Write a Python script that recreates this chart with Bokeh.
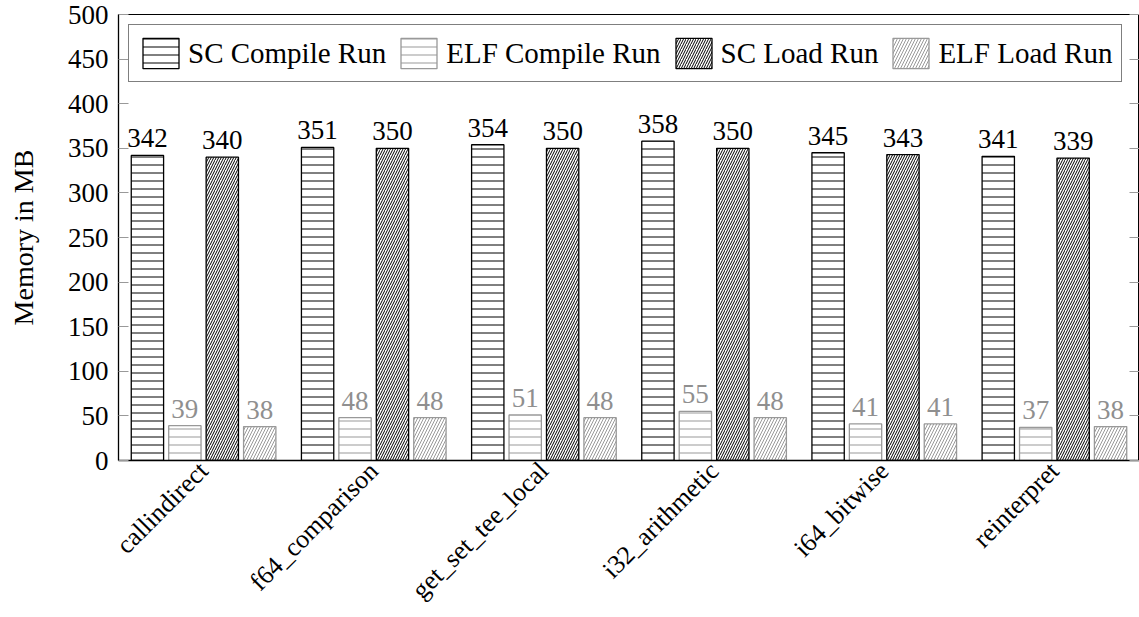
import math
from bokeh.plotting import figure
from bokeh.models import (ColumnDataSource, Range1d, FactorRange, LinearAxis,
                          FixedTicker, LabelSet, Legend, LegendItem)
from bokeh.transform import dodge
from bokeh.embed import file_html
from bokeh.resources import INLINE

# ---------------- data ----------------
benchmarks = ["callindirect", "f64_comparison", "get_set_tee_local",
              "i32_arithmetic", "i64_bitwise", "reinterpret"]
sc_compile = [342, 351, 354, 358, 345, 341]
elf_compile = [39, 48, 51, 55, 41, 37]
sc_load = [340, 350, 350, 350, 343, 339]
elf_load = [38, 48, 48, 48, 41, 38]
series_names = ["SC Compile Run", "ELF Compile Run", "SC Load Run", "ELF Load Run"]
y_ticks = list(range(0, 501, 50))

FONT = "Liberation Serif"
BLACK = "#000000"
GRAY = "#999999"
LABEL_GRAY = "#8f8f8f"

src = ColumnDataSource(dict(
    name=benchmarks,
    sc_compile=sc_compile, elf_compile=elf_compile,
    sc_load=sc_load, elf_load=elf_load,
    sc_compile_t=[str(v) for v in sc_compile],
    elf_compile_t=[str(v) for v in elf_compile],
    sc_load_t=[str(v) for v in sc_load],
    elf_load_t=[str(v) for v in elf_load],
))

p = figure(width=1139, height=617,
           x_range=FactorRange(factors=benchmarks), y_range=Range1d(0, 500),
           output_backend="svg", toolbar_location=None,
           min_border_left=118, min_border_right=0,
           min_border_top=14, min_border_bottom=156)
p.background_fill_color = "white"
p.border_fill_color = "white"
p.outline_line_color = BLACK
p.outline_line_width = 1
p.xgrid.visible = False
p.ygrid.visible = False

series = [
    ("sc_compile", -0.33, BLACK, "horizontal_line", 8, BLACK),
    ("elf_compile", -0.11, GRAY, "horizontal_line", 8, LABEL_GRAY),
    ("sc_load", 0.11, BLACK, "right_diagonal_line", 5, BLACK),
    ("elf_load", 0.33, GRAY, "right_diagonal_line", 6, LABEL_GRAY),
]

items = []
for (field, off, color, hatch, hscale, tcolor), nm in zip(series, series_names):
    r = p.vbar(x=dodge("name", off, range=p.x_range), top=field, bottom=0,
               width=0.19, source=src,
               fill_color="white", line_color=color, line_width=1.3,
               hatch_pattern=hatch, hatch_color=color, hatch_scale=hscale,
               hatch_weight=1)
    items.append(LegendItem(label=nm, renderers=[r]))
    lbl = LabelSet(x=dodge("name", off, range=p.x_range), y=field,
                   text=field + "_t", source=src,
                   text_align="center", text_baseline="bottom", y_offset=8,
                   text_font=FONT, text_font_size="27px", text_color=tcolor)
    p.add_layout(lbl)

# x axis (categories, rotated)
p.xaxis.major_label_orientation = math.pi / 4
p.xaxis.major_label_text_font = FONT
p.xaxis.major_label_text_font_size = "26px"
p.xaxis.major_label_text_color = BLACK
p.xaxis.major_label_standoff = 6
p.xaxis.major_tick_line_color = None
p.xaxis.major_tick_in = 0
p.xaxis.major_tick_out = 0
p.xaxis.minor_tick_line_color = None
p.xaxis.axis_line_color = BLACK
p.xaxis.axis_line_width = 1.3

# y axis
p.yaxis.ticker = FixedTicker(ticks=y_ticks)
p.yaxis.major_tick_in = 10
p.yaxis.major_tick_out = 0
p.yaxis.major_tick_line_color = GRAY
p.yaxis.minor_tick_line_color = None
p.yaxis.axis_line_color = BLACK
p.yaxis.axis_line_width = 1.3
p.yaxis.major_label_text_font = FONT
p.yaxis.major_label_text_font_size = "27px"
p.yaxis.major_label_text_color = BLACK
p.yaxis.major_label_standoff = 10
p.yaxis.axis_label = "Memory in MB"
p.yaxis.axis_label_text_font = FONT
p.yaxis.axis_label_text_font_size = "28px"
p.yaxis.axis_label_text_font_style = "normal"
p.yaxis.axis_label_text_color = BLACK
p.yaxis.axis_label_standoff = 26

r_axis = LinearAxis(ticker=FixedTicker(ticks=y_ticks),
                    major_label_overrides={t: "" for t in y_ticks},
                    major_tick_in=10, major_tick_out=0,
                    major_tick_line_color=GRAY,
                    minor_tick_line_color=None, axis_line_color=None,
                    major_label_standoff=0)
p.add_layout(r_axis, "right")

legend = Legend(items=items, orientation="horizontal", location="top_left",
                margin=10, padding=9, spacing=10, label_standoff=5,
                glyph_width=45, glyph_height=38,
                label_text_font=FONT, label_text_font_size="29px",
                label_text_color=BLACK,
                border_line_color=BLACK, border_line_width=1.2,
                background_fill_color="white", background_fill_alpha=1)
p.add_layout(legend)

open("out.html", "w").write(file_html(p, INLINE))
